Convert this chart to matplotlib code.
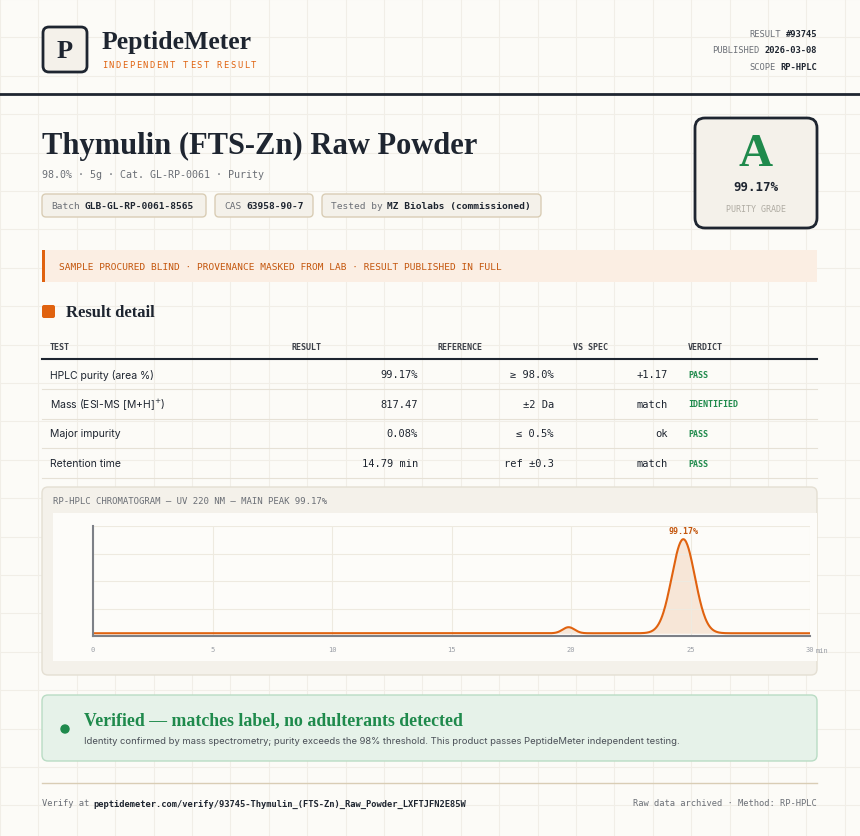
import numpy as np
import matplotlib.pyplot as plt
from matplotlib.patches import FancyBboxPatch, Rectangle, Circle

SERIF = 'Liberation Serif'
MONO = 'DejaVu Sans Mono'
SANS = 'Inter'
INK = '#1e2530'
ORANGE = '#e0620f'
GREEN = '#1f8a4c'
GRAY = '#6b6f76'

# data
meta_labels = ['RESULT', 'PUBLISHED', 'SCOPE']
meta_values = ['#93745', '2026-03-08', 'RP-HPLC']
chips = [('Batch', 'GLB-GL-RP-0061-8565'), ('CAS', '63958-90-7'),
         ('Tested by', 'MZ Biolabs (commissioned)')]
table_cols = ['TEST', 'RESULT', 'REFERENCE', 'VS SPEC', 'VERDICT']
tests = ['HPLC purity (area %)', 'Mass (ESI-MS [M+H]$^{+}$)', 'Major impurity', 'Retention time']
results = ['99.17%', '817.47', '0.08%', '14.79 min']
references = ['≥ 98.0%', '±2 Da', '≤ 0.5%', 'ref ±0.3']
vs_spec = ['+1.17', 'match', 'ok', 'match']
verdicts = ['PASS', 'IDENTIFIED', 'PASS', 'PASS']
# chromatogram peaks: retention (min), height, sigma
peak_rt = [19.9, 24.7]
peak_h = [5.5, 85.5]
peak_sd = [0.25, 0.48]
baseline = 2.5

fig = plt.figure(figsize=(8.6, 8.37), dpi=100)
fig.patch.set_facecolor('#fcfbf7')
ax = fig.add_axes([0, 0, 1, 1])
ax.set_xlim(0, 860)
ax.set_ylim(837, 0)
ax.axis('off')

for gx in np.arange(0, 861, 38.4):
    ax.axvline(gx, color='#f1eee7', lw=0.8, zorder=0)
for gy in np.arange(0, 838, 38.4):
    ax.axhline(gy, color='#f1eee7', lw=0.8, zorder=0)


def rbox(x0, y0, x1, y1, fc, ec, lw=1, r=4, z=1):
    ax.add_patch(FancyBboxPatch((x0, y0), x1 - x0, y1 - y0,
                                boxstyle=f'round,pad=0,rounding_size={r}',
                                fc=fc, ec=ec, lw=lw, zorder=z))


# header
rbox(43, 28, 87, 73, '#f4f1ea', INK, lw=2, r=6)
ax.text(65, 51, 'P', family=SERIF, weight='bold', size=19, color=INK, ha='center', va='center')
ax.text(102, 42, 'PeptideMeter', family=SERIF, weight='bold', size=18.5, color=INK, va='center')
for k, ch in enumerate('INDEPENDENT TEST RESULT'):
    ax.text(102 + k * 6.75, 65, ch, family=MONO, size=6.3, color=ORANGE, va='center')
for i, (l, v) in enumerate(zip(meta_labels, meta_values)):
    y = 34 + i * 16.5
    ax.text(817, y, v, family=MONO, weight='bold', size=6.3, color=INK, ha='right', va='center')
    off = len(v) * 5.25 + 5
    ax.text(817 - off, y, l, family=MONO, size=6.3, color=GRAY, ha='right', va='center')
ax.plot([0, 860], [95, 95], color=INK, lw=2)

# title
ax.text(42, 146, 'Thymulin (FTS-Zn) Raw Powder', family=SERIF, weight='bold', size=22,
        color=INK, va='center')
ax.text(42, 175, '98.0% · 5g · Cat. GL-RP-0061 · Purity', family=MONO, size=7.2,
        color=GRAY, va='center')
cx = [(42, 206), (215, 313), (322, 541)]
for (x0, x1), (l, v) in zip(cx, chips):
    rbox(x0, 195, x1, 218, '#f4f1ea', '#d9cdb5', r=4)
    ax.text(x0 + 9, 206.5, l, family=MONO, size=6.8, color=GRAY, va='center')
    ax.text(x0 + 9 + len(l) * 5.7 + 5, 206.5, v, family=MONO, weight='bold', size=6.8,
            color=INK, va='center')

rbox(695, 119, 817, 229, '#f4f1ea', INK, lw=2, r=10)
ax.text(756, 155, 'A', family=SERIF, weight='bold', size=34, color=GREEN, ha='center', va='center')
ax.text(756, 187, '99.17%', family=MONO, weight='bold', size=9, color=INK, ha='center', va='center')
ax.text(756, 209, 'PURITY GRADE', family=MONO, size=6, color='#b0aca3', ha='center', va='center')

# banner
ax.add_patch(Rectangle((42, 251), 775, 32, fc='#fbeee3', ec='none', zorder=1))
ax.add_patch(Rectangle((42, 251), 3, 32, fc=ORANGE, ec='none', zorder=2))
ax.text(59, 267, 'SAMPLE PROCURED BLIND · PROVENANCE MASKED FROM LAB · RESULT PUBLISHED IN FULL',
        family=MONO, size=6.8, color='#c4560d', va='center')

# result detail
rbox(42, 306, 55, 319, ORANGE, 'none', r=2)
ax.text(66, 313, 'Result detail', family=SERIF, weight='bold', size=12, color=INK, va='center')
hx = [50, 292, 438, 573, 688]
for x, c in zip(hx, table_cols):
    ax.text(x, 347, c, family=MONO, weight='bold', size=6, color='#3c4048', va='center')
ax.plot([42, 817], [360, 360], color=INK, lw=1.5)
for i in range(len(tests)):
    y = 375 + i * 29.7
    ax.text(50, y, tests[i], family=SANS, size=7.5, color=INK, va='center')
    ax.text(418, y, results[i], family=MONO, size=7.5, color=INK, ha='right', va='center')
    ax.text(554, y, references[i], family=MONO, size=7.5, color=INK, ha='right', va='center')
    ax.text(668, y, vs_spec[i], family=MONO, size=7.5, color=INK, ha='right', va='center')
    ax.text(688, y, verdicts[i], family=MONO, weight='bold', size=6, color=GREEN, va='center')
    ax.plot([42, 817], [y + 15, y + 15], color='#e6e1d6', lw=0.8)

# chromatogram panel
rbox(42, 488, 817, 676, '#f4f1ea', '#e4dfd3', r=6)
ax.text(53, 502, 'RP-HPLC CHROMATOGRAM — UV 220 NM — MAIN PEAK 99.17%', family=MONO, size=6.5,
        color=GRAY, va='center')
ax.add_patch(Rectangle((53, 514), 764, 148, fc='#fdfcf9', ec='none', zorder=2))

cax = fig.add_axes([93 / 860, 1 - 637 / 837, (810 - 93) / 860, (637 - 527) / 837])
cax.set_facecolor('none')
t = np.linspace(0, 30, 1200)
sig = np.full_like(t, baseline)
for rt, h, sd in zip(peak_rt, peak_h, peak_sd):
    sig = sig + h * np.exp(-0.5 * ((t - rt) / sd) ** 2)
cax.fill_between(t, baseline, sig, color='#f7e6d7', lw=0)
cax.plot(t, sig, color=ORANGE, lw=1.5)
cax.set_xlim(0, 30)
cax.set_ylim(0, 100)
cax.set_xticks(np.arange(0, 31, 5))
cax.set_xticklabels(['0', '5', '10', '15', '20', '25', '30'], family=MONO, size=5, color='#9a9ea6')
cax.set_yticks([25, 50, 75, 100])
cax.set_yticklabels([])
cax.tick_params(length=0, pad=7)
cax.grid(True, color='#eeeae0', lw=0.8)
for s in ['top', 'right']:
    cax.spines[s].set_visible(False)
for s in ['left', 'bottom']:
    cax.spines[s].set_color('#7d8087')
    cax.spines[s].set_linewidth(1.5)
cax.text(30.25, -12.5, 'min', family=MONO, size=5, color='#9a9ea6', ha='left', va='center',
         clip_on=False)
imax = np.argmax(sig)
cax.text(t[imax], sig[imax] + 4, '99.17%', family=MONO, weight='bold', size=6, color='#c4560d',
         ha='center', va='bottom')

# verified box
rbox(42, 696, 817, 762, '#e6f2e9', '#b9dcc4', r=6)
ax.add_patch(Circle((65, 730), 4, color=GREEN, zorder=3))
ax.text(84, 721, 'Verified — matches label, no adulterants detected', family=SERIF, weight='bold',
        size=12.8, color=GREEN, va='center')
ax.text(84, 742, 'Identity confirmed by mass spectrometry; purity exceeds the 98% threshold. '
        'This product passes PeptideMeter independent testing.', family=SANS, size=6.8,
        color='#4a4f57', va='center')

# footer
ax.plot([42, 817], [784, 784], color='#d9cdb5', lw=1)
ax.text(42, 804, 'Verify at', family=MONO, size=6.3, color=GRAY, va='center')
ax.text(93, 804, 'peptidemeter.com/verify/93745-Thymulin_(FTS-Zn)_Raw_Powder_LXFTJFN2E85W',
        family=MONO, weight='bold', size=6.3, color=INK, va='center')
ax.text(817, 804, 'Raw data archived · Method: RP-HPLC', family=MONO, size=6.3, color=GRAY,
        ha='right', va='center')

fig.savefig('out.png', dpi=100, facecolor=fig.get_facecolor())
